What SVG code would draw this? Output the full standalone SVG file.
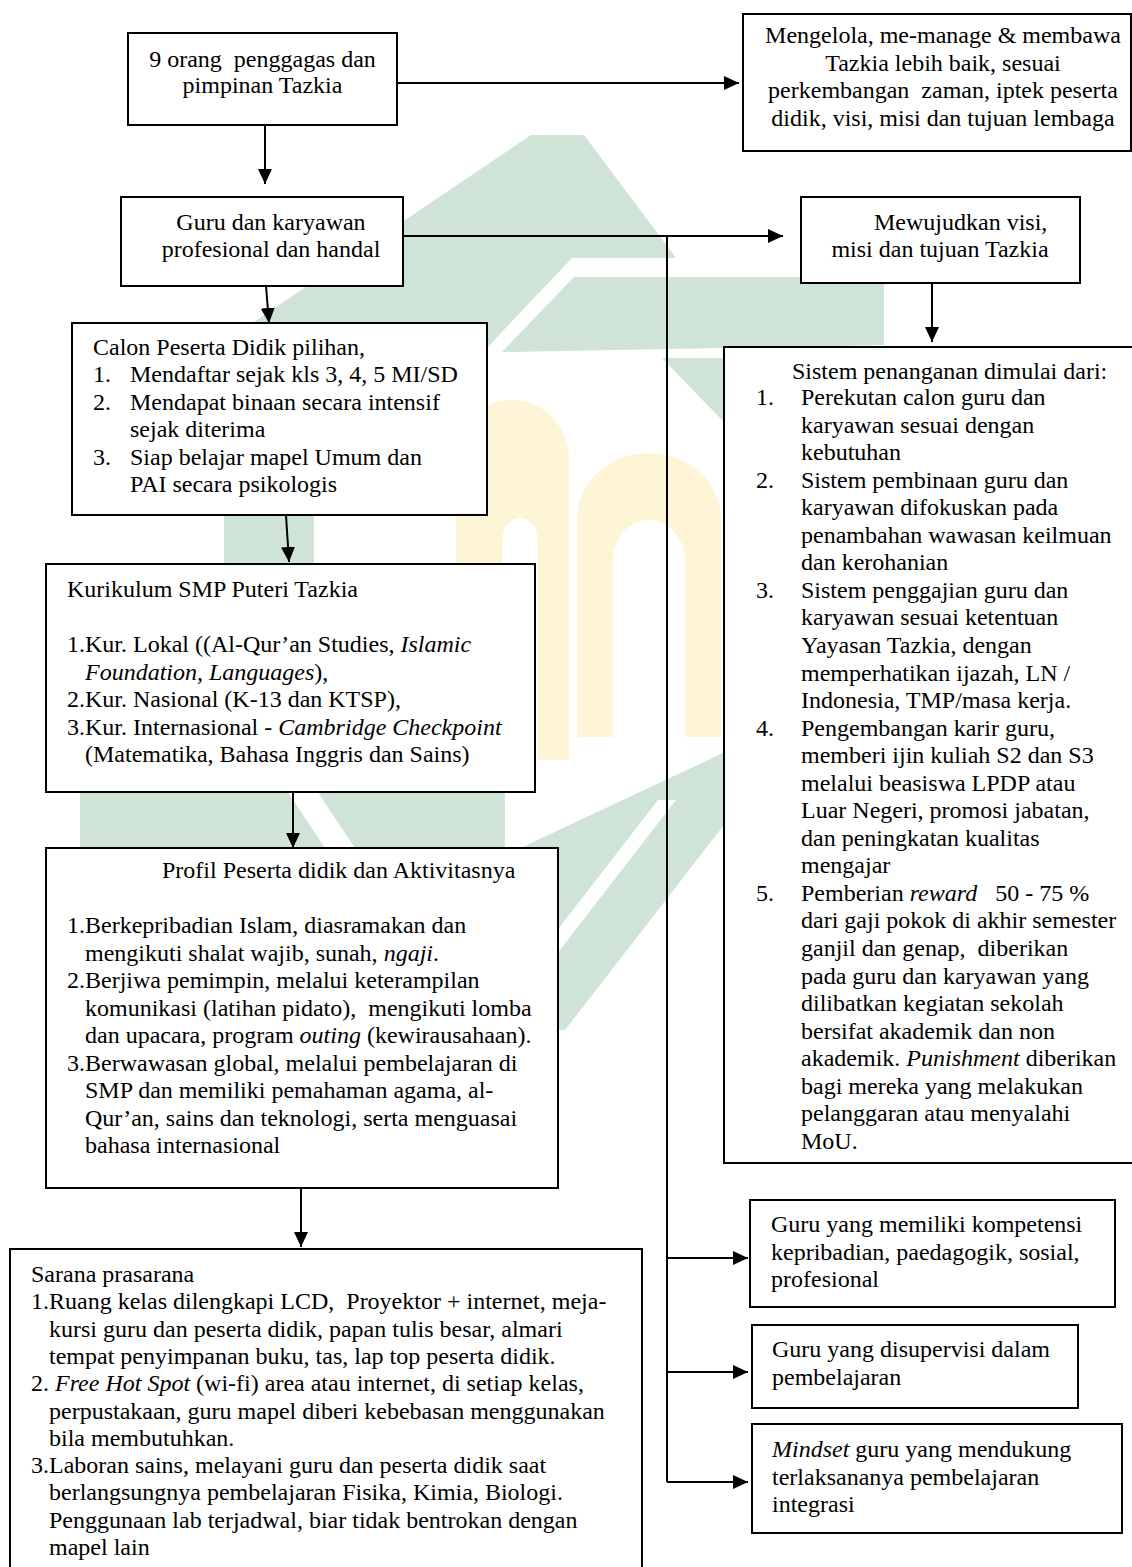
<svg xmlns="http://www.w3.org/2000/svg" width="1132" height="1567" viewBox="0 0 1132 1567">
<defs>
<style>
.box{fill:#fff;stroke:#000;stroke-width:2}
.t{font-family:'Liberation Serif','Times New Roman',serif;font-size:24px;fill:#000}
.c{text-anchor:middle}
.i{font-style:italic}
.conn line{stroke:#000;stroke-width:2}
.wg{fill:#cfe3d6}
.wy{fill:#fdf5d6}
.ww{fill:#fff}
</style>
<marker id="ah" markerUnits="userSpaceOnUse" markerWidth="16" markerHeight="14" refX="15" refY="7" orient="auto"><path d="M0,0 L15,7 L0,14 Z" fill="#000"/></marker>
</defs>
<rect width="1132" height="1567" fill="#fff"/>
<g id="watermark">
<polygon class="wg" points="531,135 584,135 676,258 572,258 466,370 183,370"/>
<polygon class="wg" points="574,277 884,277 884,345 502,352"/>
<polygon class="wg" points="662,358 900,358 900,470 770,470"/>
<rect class="wg" x="224" y="380" width="90" height="420"/>
<polygon class="wg" points="80,785 505,785 505,860 80,860"/>
<polygon class="ww" points="283,785 313,785 363,860 333,860"/>
<polygon class="wg" points="740,745 786,745 565,1030 500,1030 500,860 527,845"/>
<polygon class="ww" points="658,800 676,800 498,1030 480,1030"/>
<path class="wy" d="M456,760 V460 A56.5 60 0 0 1 569 460 V760 H538 V540 A18 22 0 0 0 502 540 V760 Z"/>
<path class="wy" d="M577,737 V520 A72 67 0 0 1 721 520 V737 H685 V560 A36 40 0 0 0 613 560 V737 Z"/>
</g>
<g id="connectors" class="conn">
<line x1="397" y1="83" x2="739" y2="83" marker-end="url(#ah)"/>
<line x1="265" y1="125" x2="265" y2="184" marker-end="url(#ah)"/>
<line x1="403" y1="236" x2="783" y2="236" marker-end="url(#ah)"/>
<line x1="667" y1="236" x2="667" y2="1482"/>
<line x1="667" y1="1258" x2="748" y2="1258" marker-end="url(#ah)"/>
<line x1="667" y1="1372" x2="748" y2="1372" marker-end="url(#ah)"/>
<line x1="667" y1="1482" x2="748" y2="1482" marker-end="url(#ah)"/>
<line x1="266" y1="286" x2="269" y2="323" marker-end="url(#ah)"/>
<line x1="286" y1="515" x2="289" y2="562" marker-end="url(#ah)"/>
<line x1="293" y1="792" x2="293" y2="848" marker-end="url(#ah)"/>
<line x1="301" y1="1188" x2="301" y2="1247" marker-end="url(#ah)"/>
<line x1="932" y1="283" x2="932" y2="342" marker-end="url(#ah)"/>
</g>
<g id="n-penggagas">
<rect class="box" x="128" y="33" width="269" height="92"/>
<text class="t c" x="262.5" y="67" xml:space="preserve">9 orang  penggagas dan</text>
<text class="t c" x="262.5" y="93">pimpinan Tazkia</text>
</g>
<g id="n-mengelola">
<rect class="box" x="743" y="14" width="388" height="137"/>
<text class="t c" x="943" y="43">Mengelola, me-manage &amp; membawa</text>
<text class="t c" x="943" y="70.5">Tazkia lebih baik, sesuai</text>
<text class="t c" x="943" y="98" xml:space="preserve">perkembangan  zaman, iptek peserta</text>
<text class="t c" x="943" y="125.5">didik, visi, misi dan tujuan lembaga</text>
</g>
<g id="n-guru">
<rect class="box" x="121" y="197" width="282" height="89"/>
<text class="t c" x="271" y="230">Guru dan karyawan</text>
<text class="t c" x="271" y="257">profesional dan handal</text>
</g>
<g id="n-mewujudkan">
<rect class="box" x="801" y="197" width="279" height="86"/>
<text class="t" x="874" y="230">Mewujudkan visi,</text>
<text class="t c" x="940" y="257">misi dan tujuan Tazkia</text>
</g>
<g id="n-calon">
<rect class="box" x="72" y="323" width="415" height="192"/>
<text class="t" x="93" y="355">Calon Peserta Didik pilihan,</text>
<text class="t" x="93" y="382">1.</text><text class="t" x="130" y="382">Mendaftar sejak kls 3, 4, 5 MI/SD</text>
<text class="t" x="93" y="409.5">2.</text><text class="t" x="130" y="409.5">Mendapat binaan secara intensif</text>
<text class="t" x="130" y="437">sejak diterima</text>
<text class="t" x="93" y="464.5">3.</text><text class="t" x="130" y="464.5">Siap belajar mapel Umum dan</text>
<text class="t" x="130" y="492">PAI secara psikologis</text>
</g>
<g id="n-kurikulum">
<rect class="box" x="46" y="564" width="489" height="228"/>
<text class="t" x="67" y="597">Kurikulum SMP Puteri Tazkia</text>
<text class="t" x="67" y="652" xml:space="preserve">1.Kur. Lokal ((Al-Qur’an Studies, <tspan class="i">Islamic</tspan></text>
<text class="t" x="85" y="679.5"><tspan class="i">Foundation, Languages</tspan>),</text>
<text class="t" x="67" y="707">2.Kur. Nasional (K-13 dan KTSP),</text>
<text class="t" x="67" y="734.5" xml:space="preserve">3.Kur. Internasional - <tspan class="i">Cambridge Checkpoint</tspan></text>
<text class="t" x="85" y="762">(Matematika, Bahasa Inggris dan Sains)</text>
</g>
<g id="n-profil">
<rect class="box" x="46" y="848" width="512" height="340"/>
<text class="t" x="162" y="878">Profil Peserta didik dan Aktivitasnya</text>
<text class="t" x="67" y="933">1.Berkepribadian Islam, diasramakan dan</text>
<text class="t" x="85" y="960.5" xml:space="preserve">mengikuti shalat wajib, sunah, <tspan class="i">ngaji</tspan>.</text>
<text class="t" x="67" y="988">2.Berjiwa pemimpin, melalui keterampilan</text>
<text class="t" x="85" y="1015.5" xml:space="preserve">komunikasi (latihan pidato),  mengikuti lomba</text>
<text class="t" x="85" y="1043" xml:space="preserve">dan upacara, program <tspan class="i">outing</tspan> (kewirausahaan).</text>
<text class="t" x="67" y="1070.5">3.Berwawasan global, melalui pembelajaran di</text>
<text class="t" x="85" y="1098">SMP dan memiliki pemahaman agama, al-</text>
<text class="t" x="85" y="1125.5">Qur’an, sains dan teknologi, serta menguasai</text>
<text class="t" x="85" y="1153">bahasa internasional</text>
</g>
<g id="n-sarana">
<rect class="box" x="10" y="1249" width="632" height="330"/>
<text class="t" x="31" y="1282">Sarana prasarana</text>
<text class="t" x="31" y="1309.3" xml:space="preserve">1.Ruang kelas dilengkapi LCD,  Proyektor + internet, meja-</text>
<text class="t" x="49" y="1336.6">kursi guru dan peserta didik, papan tulis besar, almari</text>
<text class="t" x="49" y="1363.9">tempat penyimpanan buku, tas, lap top peserta didik.</text>
<text class="t" x="31" y="1391.2" xml:space="preserve">2. <tspan class="i">Free Hot Spot</tspan> (wi-fi) area atau internet, di setiap kelas,</text>
<text class="t" x="49" y="1418.5">perpustakaan, guru mapel diberi kebebasan menggunakan</text>
<text class="t" x="49" y="1445.8">bila membutuhkan.</text>
<text class="t" x="31" y="1473.1">3.Laboran sains, melayani guru dan peserta didik saat</text>
<text class="t" x="49" y="1500.4">berlangsungnya pembelajaran Fisika, Kimia, Biologi.</text>
<text class="t" x="49" y="1527.7">Penggunaan lab terjadwal, biar tidak bentrokan dengan</text>
<text class="t" x="49" y="1555">mapel lain</text>
</g>
<g id="n-sistem">
<rect class="box" x="724" y="347" width="420" height="816"/>
<text class="t" x="792" y="379">Sistem penanganan dimulai dari:</text>
<text class="t" x="756" y="405">1.</text><text class="t" x="801" y="405">Perekutan calon guru dan</text>
<text class="t" x="801" y="432.55">karyawan sesuai dengan</text>
<text class="t" x="801" y="460.1">kebutuhan</text>
<text class="t" x="756" y="487.65">2.</text><text class="t" x="801" y="487.65">Sistem pembinaan guru dan</text>
<text class="t" x="801" y="515.2">karyawan difokuskan pada</text>
<text class="t" x="801" y="542.75">penambahan wawasan keilmuan</text>
<text class="t" x="801" y="570.3">dan kerohanian</text>
<text class="t" x="756" y="597.85">3.</text><text class="t" x="801" y="597.85">Sistem penggajian guru dan</text>
<text class="t" x="801" y="625.4">karyawan sesuai ketentuan</text>
<text class="t" x="801" y="652.95">Yayasan Tazkia, dengan</text>
<text class="t" x="801" y="680.5">memperhatikan ijazah, LN /</text>
<text class="t" x="801" y="708.05">Indonesia, TMP/masa kerja.</text>
<text class="t" x="756" y="735.6">4.</text><text class="t" x="801" y="735.6">Pengembangan karir guru,</text>
<text class="t" x="801" y="763.15">memberi ijin kuliah S2 dan S3</text>
<text class="t" x="801" y="790.7">melalui beasiswa LPDP atau</text>
<text class="t" x="801" y="818.25">Luar Negeri, promosi jabatan,</text>
<text class="t" x="801" y="845.8">dan peningkatan kualitas</text>
<text class="t" x="801" y="873.35">mengajar</text>
<text class="t" x="756" y="900.9">5.</text><text class="t" x="801" y="900.9" xml:space="preserve">Pemberian <tspan class="i">reward</tspan>   50 - 75 %</text>
<text class="t" x="801" y="928.45">dari gaji pokok di akhir semester</text>
<text class="t" x="801" y="956" xml:space="preserve">ganjil dan genap,  diberikan</text>
<text class="t" x="801" y="983.55">pada guru dan karyawan yang</text>
<text class="t" x="801" y="1011.1">dilibatkan kegiatan sekolah</text>
<text class="t" x="801" y="1038.65">bersifat akademik dan non</text>
<text class="t" x="801" y="1066.2" xml:space="preserve">akademik. <tspan class="i">Punishment</tspan> diberikan</text>
<text class="t" x="801" y="1093.75">bagi mereka yang melakukan</text>
<text class="t" x="801" y="1121.3">pelanggaran atau menyalahi</text>
<text class="t" x="801" y="1148.85">MoU.</text>
</g>
<g id="n-kompetensi">
<rect class="box" x="750" y="1200" width="365" height="107"/>
<text class="t" x="771" y="1232">Guru yang memiliki kompetensi</text>
<text class="t" x="771" y="1259.5">kepribadian, paedagogik, sosial,</text>
<text class="t" x="771" y="1287">profesional</text>
</g>
<g id="n-supervisi">
<rect class="box" x="752" y="1325" width="326" height="83"/>
<text class="t" x="772" y="1357">Guru yang disupervisi dalam</text>
<text class="t" x="772" y="1384.5">pembelajaran</text>
</g>
<g id="n-mindset">
<rect class="box" x="752" y="1424" width="370" height="109"/>
<text class="t" x="772" y="1457" xml:space="preserve"><tspan class="i">Mindset</tspan> guru yang mendukung</text>
<text class="t" x="772" y="1484.5">terlaksananya pembelajaran</text>
<text class="t" x="772" y="1512">integrasi</text>
</g>
</svg>
